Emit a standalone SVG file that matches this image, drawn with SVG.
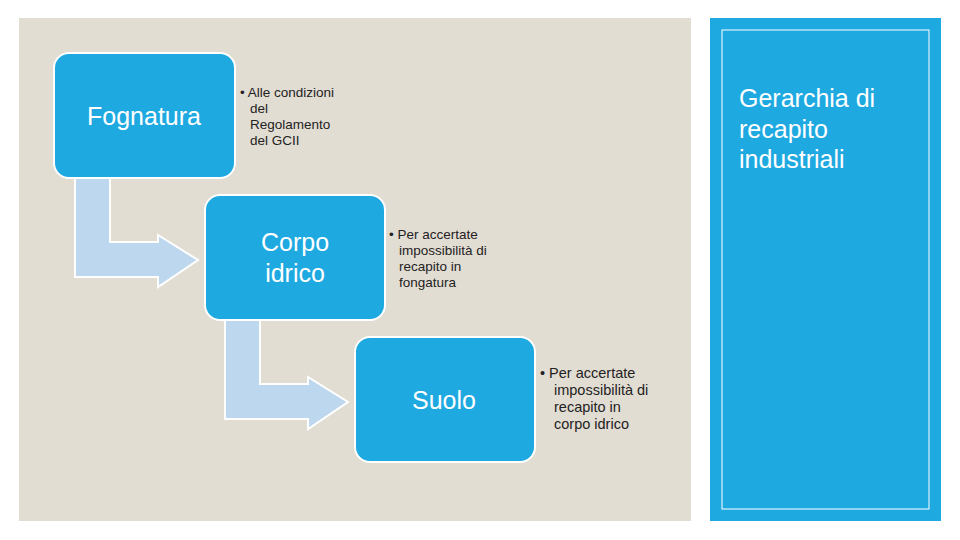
<svg xmlns="http://www.w3.org/2000/svg" width="960" height="540" viewBox="0 0 960 540">
<style>
.node{fill:#1fa9e1;stroke:#fff;stroke-width:2}
.lbl{font-family:"Liberation Sans",Arial,sans-serif;fill:#fff;text-anchor:middle;font-size:25px}
.note{font-family:"Liberation Sans",Arial,sans-serif;fill:#222;font-size:13.5px}
.arr{fill:#bdd7ee;stroke:#fff;stroke-width:2}
</style>
<rect width="960" height="540" fill="#fff"/>
<rect x="19" y="18" width="672" height="503" fill="#e2ddd3"/>
<rect x="710" y="18" width="231" height="503" fill="#1fa9e1"/>
<rect x="722" y="30" width="207" height="479" fill="none" stroke="#fff" stroke-width="1"/>
<text font-family="Liberation Sans,Arial,sans-serif" font-size="25" fill="#fff"><tspan x="739" y="107">Gerarchia di</tspan><tspan x="739" y="138">recapito</tspan><tspan x="739" y="168">industriali</tspan></text>
<g id="connectors">
<path class="arr" d="M75,178 H110 V242 H158 V235 L198,260 L158,287 V277 H75 Z"/>
<path class="arr" d="M225,320 H260 V384 H308 V377 L348,402 L308,429 V419 H225 Z"/>
</g>
<g id="fognatura">
<rect class="node" x="54" y="53" width="181" height="125" rx="15"/>
<text class="lbl" x="144" y="125">Fognatura</text>
<text class="note"><tspan x="240" y="97">• Alle condizioni</tspan><tspan x="250" y="113">del</tspan><tspan x="250" y="129">Regolamento</tspan><tspan x="250" y="145">del GCII</tspan></text>
</g>
<g id="corpo">
<rect class="node" x="205" y="195" width="180" height="125" rx="15"/>
<text class="lbl" x="295" y="251">Corpo</text>
<text class="lbl" x="295" y="282">idrico</text>
<text class="note"><tspan x="389" y="239">• Per accertate</tspan><tspan x="399" y="255">impossibilità di</tspan><tspan x="399" y="271">recapito in</tspan><tspan x="399" y="287">fongatura</tspan></text>
</g>
<g id="suolo">
<rect class="node" x="355" y="337" width="180" height="125" rx="15"/>
<text class="lbl" x="444" y="409">Suolo</text>
<text class="note" font-size="14.5"><tspan x="540" y="378" style="font-size:14.5px">• Per accertate</tspan><tspan x="554" y="395" style="font-size:14.5px">impossibilità di</tspan><tspan x="554" y="412" style="font-size:14.5px">recapito in</tspan><tspan x="554" y="429" style="font-size:14.5px">corpo idrico</tspan></text>
</g>
</svg>
